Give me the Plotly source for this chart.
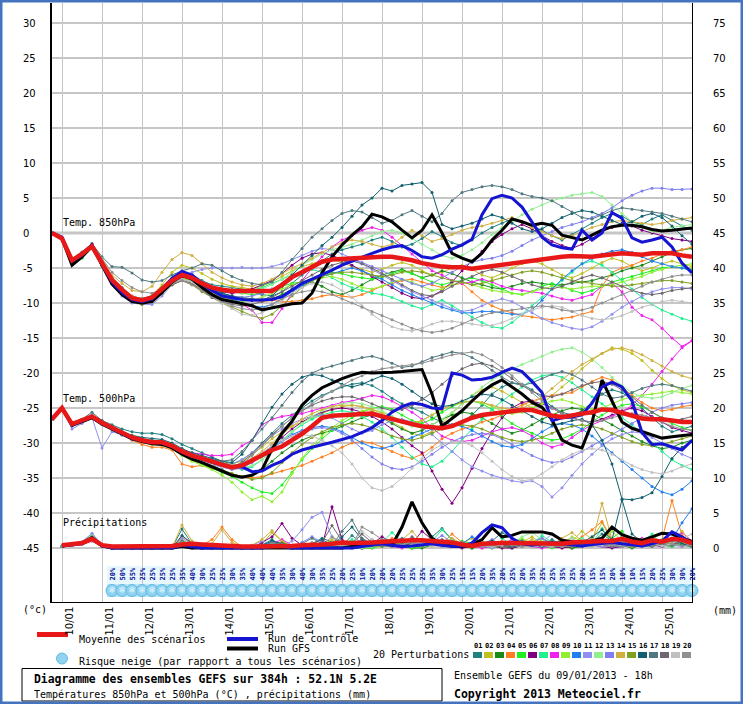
import plotly.graph_objects as go

# ------------------------------------------------------------------ data
hours = list(range(0, 385, 6))
day_hours = [6, 30, 54, 78, 102, 126, 150, 174, 198, 222, 246, 270, 294, 318, 342, 366]
day_labels = ["10/01", "11/01", "12/01", "13/01", "14/01", "15/01", "16/01", "17/01",
              "18/01", "19/01", "20/01", "21/01", "22/01", "23/01", "24/01", "25/01"]
left_ticks = [-45, -40, -35, -30, -25, -20, -15, -10, -5, 0, 5, 10, 15, 20, 25, 30]
right_ticks = [0, 5, 10, 15, 20, 25, 30, 35, 40, 45, 50, 55, 60, 65, 70, 75]
snow_pct = [20, 50, 55, 25, 25, 25, 25, 35, 40, 30, 25, 25, 30, 35, 40, 40, 40, 35, 30, 40,
            30, 35, 25, 20, 25, 10, 20, 20, 20, 25, 25, 25, 35, 30, 25, 15, 15, 20, 35,
            20, 25, 20, 35, 25, 25, 35, 25, 20, 15, 15, 20, 10, 10, 15, 20, 25, 30, 30, 20]

mean_850 = [0.0, -0.8, -3.9, -3.0, -1.9, -4.3, -6.7, -8.1, -9.3, -9.6,
            -9.2, -8.0, -6.8, -6.0, -6.4, -7.2, -7.8, -8.1, -8.3, -8.3,
            -8.3, -8.3, -8.3, -7.4, -6.3, -5.6, -4.8, -4.1, -3.8, -3.7,
            -3.6, -3.5, -3.4, -3.4, -3.4, -3.6, -3.9, -4.3, -4.6, -4.8,
            -4.9, -4.9, -5.1, -4.9, -4.7, -4.5, -4.3, -4.1, -3.9, -3.7,
            -3.5, -3.4, -3.3, -3.3, -3.4, -3.2, -3.1, -2.9, -3.0, -3.1,
            -2.9, -2.9, -2.9, -3.2, -3.4]
ctrl_850 = [0.0, -0.6, -4.0, -3.2, -1.7, -4.5, -7.0, -8.5, -9.5, -9.8,
            -9.4, -8.0, -6.5, -5.5, -6.0, -7.2, -8.2, -9.0, -9.3, -9.5,
            -9.6, -9.6, -9.5, -9.1, -8.1, -7.2, -6.6, -6.0, -5.3, -4.6,
            -4.0, -3.4, -2.9, -2.4, -2.0, -1.8, -2.5, -3.4, -3.6, -3.1,
            -2.3, -1.7, -0.9, 2.6, 4.9, 5.4, 5.0, 3.7, 1.6, -0.6,
            -1.7, -2.1, -2.3, 0.4, -1.0, 0.0, 2.9, 2.1, -0.7, -1.3,
            -1.0, -0.6, -2.0, -4.3, -5.7]
gfs_850 = [0.0, -0.8, -4.6, -3.4, -1.9, -4.5, -7.3, -8.8, -9.8, -10.0,
           -9.8, -8.5, -7.0, -6.1, -6.6, -7.8, -8.8, -9.5, -9.8, -10.0,
           -10.4, -11.0, -10.7, -10.3, -10.1, -10.0, -8.6, -5.7, -3.4, -1.7,
           -0.3, 0.9, 2.7, 2.3, 1.6, 0.4, -0.7, 0.4, 2.6, 0.0,
           -2.9, -3.6, -4.1, -2.9, -1.0, 0.4, 2.0, 1.6, 1.1, 1.4,
           1.1, -0.3, -0.7, -1.0, -0.3, 0.4, 0.9, 1.1, 1.1, 0.9,
           0.5, 0.3, 0.4, 0.5, 0.7]

mean_500 = [-26.6, -25.0, -27.3, -26.8, -26.2, -27.1, -27.8, -28.6, -29.2, -29.6,
            -29.9, -29.9, -30.4, -31.2, -31.8, -32.2, -32.7, -33.1, -33.5, -33.2,
            -32.5, -31.8, -31.0, -30.5, -29.6, -28.7, -27.6, -26.4, -26.1, -26.0,
            -25.9, -25.8, -25.8, -26.2, -26.6, -27.0, -27.3, -27.6, -27.8, -27.9,
            -27.6, -27.0, -26.4, -26.0, -25.8, -25.6, -25.4, -25.3, -25.3, -25.7,
            -26.1, -26.3, -26.0, -25.8, -25.6, -25.2, -25.3, -25.7, -26.1, -26.5,
            -26.6, -26.6, -26.8, -27.0, -27.0]
ctrl_500 = [-26.6, -25.0, -27.4, -26.8, -26.3, -27.2, -27.9, -28.7, -29.3, -29.6,
            -29.9, -30.0, -30.5, -31.3, -31.9, -32.3, -32.8, -33.2, -33.4, -33.4,
            -34.1, -34.0, -33.2, -32.6, -31.6, -31.0, -30.6, -30.3, -29.9, -29.5,
            -29.1, -28.5, -27.8, -26.8, -25.6, -24.8, -24.3, -24.5, -25.0, -25.1,
            -20.0, -20.3, -21.0, -20.9, -20.6, -19.9, -19.3, -19.8, -21.2, -22.8,
            -26.8, -26.4, -26.3, -26.0, -24.3, -22.0, -21.3, -22.0, -24.0, -28.5,
            -30.2, -30.1, -30.5, -31.0, -29.6]
gfs_500 = [-26.6, -25.0, -27.5, -26.9, -26.4, -27.3, -28.0, -28.8, -29.4, -29.8,
           -30.1, -30.2, -30.7, -31.6, -32.3, -32.8, -33.4, -34.0, -34.6, -34.9,
           -34.6, -33.8, -30.9, -28.6, -26.9, -24.6, -23.2, -22.1, -21.4, -20.8,
           -20.3, -19.9, -20.0, -20.0, -19.9, -19.8, -19.6, -19.5, -23.0, -27.6,
           -26.5, -25.4, -24.0, -22.7, -21.7, -21.0, -22.0, -23.0, -24.2, -24.9,
           -26.7, -29.6, -30.3, -30.7, -27.1, -21.0, -24.0, -27.0, -27.9, -28.4,
           -28.9, -29.3, -29.1, -28.9, -28.8]

# precipitation starts at the second time step (64 values)
mean_pr = [.4, .6, .7, 1.3, .4, .2, .2, .2, .2, .2, .2, .3, .5, .6, .5, .4,
           .3, .3, .2, .2, .2, .3, .3, .3, .4, .4, .5, .6, .8, .7, .7, .8,
           .9, 1.0, 1.1, 1.1, 1.1, 1.0, 1.0, .8, .5, .3, .6, .7, .7, .7, .7, .7,
           .6, .6, .6, .8, .9, 1.0, 1.0, 1.0, 1.3, .9, .7, 1.1, .9, 1.3, 1.2, .7]
ctrl_pr = [.3, .5, .6, 1.3, .3, 0, 0, 0, 0, 0, 0, 0, .4, .2, 0, 0,
           0, 0, 0, 0, 0, .2, .2, 0, 0, 0, 0, 0, 0, 0, .2, .4,
           .6, .4, .2, .3, .4, .6, .4, .2, .3, .7, 2.2, 3.3, 2.9, 1.4, .6, .4,
           .6, .8, .6, .4, .3, .5, .6, .8, .6, .4, .3, .6, 1.0, 2.3, 1.6, .6]
gfs_pr = [.3, .5, .7, 1.5, .3, 0, 0, 0, 0, 0, 0, 0, .2, 0, 0, 0,
          0, 0, 0, 0, 0, 0, 0, 0, 0, 0, 0, 0, 0, .2, .4, .6,
          .8, .4, 3.0, 6.6, 3.6, 1.4, .6, .3, .2, .5, 1.2, 2.9, 1.6, 1.8, 2.3, 2.3,
          2.3, 2.0, 1.1, .9, .7, 1.0, 1.4, 3.0, 1.9, 1.4, 1.1, 1.6, 2.1, 2.0, 1.4, .9]

# ---- 20 perturbations, 850 hPa
p01_850 = [0, -0.8, -3.8, -2.8, -1.6, -4.0, -6.4, -7.8, -9.0, -9.4, -9.0, -7.8, -6.5,
           -5.6, -5.9, -6.8, -7.4, -7.6, -7.8, -8.0, -8.4, -8.8, -9.0, -8.4, -7.2,
           -6.0, -5.0, -4.0, -3.0, -2.4, -2.0, -1.6, -1.0, -0.6, -1.2, -2.0, -1.6, -0.8, 0.2, -0.5, -1.4,
           -1.8, -1.0, 0.0, 0.8, 1.4, 2.0, 1.6, 1.0, 0.4, -0.4, -1.0, -0.2, 0.6, 1.4, 2.2, 2.8, 2.4, 1.6, 1.2, 2.0, 2.6, 1.8, 1.0, 0.4]
p02_850 = [0, -0.8, -4.0, -3.0, -1.8, -4.4, -6.9, -8.4, -9.5, -9.7, -9.0, -7.4, -5.6,
           -4.6, -5.0, -5.8, -6.6, -7.2, -7.6, -7.8, -8.0, -7.6, -7.0, -6.2, -5.4,
           -4.8, -4.4, -4.0, -3.8, -4.2, -4.8, -5.2, -5.6, -5.2, -4.6, -4.2, -4.6, -5.4, -6.0, -5.6, -5.0,
           -4.6, -5.2, -6.0, -6.4, -5.8, -5.0, -4.4, -4.0, -4.4, -5.2, -6.0, -6.4, -5.8, -5.0, -4.2, -3.6, -4.0, -4.8, -5.4, -5.0, -4.4, -4.0, -4.4, -4.8]
p03_850 = [0, -0.9, -4.2, -3.2, -2.0, -4.6, -7.0, -8.4, -9.6, -9.8, -9.3, -8.2, -7.0,
           -6.4, -6.8, -7.6, -8.2, -8.6, -9.0, -9.2, -9.4, -9.6, -9.4, -8.8, -8.0,
           -7.4, -7.0, -7.6, -8.4, -8.8, -8.2, -7.4, -6.6, -6.0, -5.6, -5.2, -5.8, -6.4, -6.0, -5.4, -5.8,
           -6.4, -7.0, -7.4, -7.8, -8.0, -7.6, -7.2, -7.0, -7.2, -7.4, -7.4, -7.2, -7.0, -6.8, -6.4, -6.0, -5.4, -5.0, -4.6, -4.0, -3.4, -2.8, -2.4, -2.2]
p04_850 = [0, -0.7, -3.8, -2.9, -1.9, -4.2, -6.6, -8.0, -9.0, -9.4, -9.2, -8.4, -7.4,
           -6.8, -7.2, -8.0, -8.6, -9.0, -9.2, -9.4, -9.6, -9.8, -9.6, -9.8, -9.8,
           -9.6, -9.4, -9.0, -8.8, -9.0, -9.2, -8.8, -8.2, -7.6, -7.2, -6.8, -6.6, -7.0, -7.4, -7.8, -7.4,
           -7.2, -8.4, -9.6, -10.4, -11.0, -11.4, -11.8, -12.0, -12.2, -12.4, -12.2, -12.0, -11.6, -11.2, -7.6, -5.6, -5.0, -4.6, -4.0, -3.6, -3.0, -2.6, -2.4, -2.0]
p05_850 = [0, -0.8, -4.5, -3.6, -2.2, -4.6, -7.2, -8.6, -9.8, -10.0, -9.6, -8.2, -6.8,
           -6.0, -6.6, -7.4, -7.8, -8.0, -8.4, -8.6, -8.8, -8.6, -8.0, -7.6, -7.2,
           -7.0, -6.6, -6.0, -5.6, -5.8, -6.2, -6.4, -6.6, -6.4, -5.8, -5.4, -5.8, -6.4, -7.0, -7.4, -7.0,
           -6.8, -6.4, -6.8, -7.4, -8.0, -8.6, -8.8, -8.4, -7.6, -7.2, -7.6, -8.2, -8.6, -8.2, -7.6, -7.0, -6.6, -6.2, -5.8, -5.4, -5.0, -4.8, -5.0, -5.2]
p06_850 = [0, -0.8, -4.0, -3.1, -1.9, -4.3, -6.8, -8.2, -9.4, -9.8, -9.4, -8.2, -7.0,
           -6.2, -6.6, -7.4, -8.0, -8.4, -8.6, -8.4, -8.0, -7.4, -6.8, -5.8, -4.6,
           -3.6, -3.0, -2.8, -3.2, -3.8, -4.6, -5.4, -6.2, -7.0, -7.8, -8.6, -9.2, -9.4, -9.0, -8.2, -7.0,
           -5.4, -4.0, -2.6, -1.2, -0.2, 0.6, 1.2, 0.6, -0.4, -1.2, -1.8, -2.2, -1.6, -0.8, 0.2, 0.8, 1.4, 1.0, 0.4, 0.0, -0.4, -0.8, -1.0, -1.2]
p07_850 = [0, -0.8, -4.4, -3.4, -1.8, -4.1, -6.5, -7.9, -9.1, -9.4, -9.0, -7.8, -6.4,
           -5.8, -6.2, -7.0, -7.6, -8.0, -8.2, -8.4, -8.2, -7.8, -7.2, -6.6, -6.0,
           -5.6, -5.2, -5.6, -6.4, -7.2, -7.8, -8.2, -8.6, -8.8, -9.2, -9.8, -10.4, -10.8, -10.2, -9.6, -10.4,
           -11.2, -12.0, -12.8, -13.4, -13.6, -12.8, -11.6, -10.4, -9.2, -8.0, -6.8, -5.6, -4.4, -4.0, -4.6, -5.6, -6.8, -8.0, -9.2, -10.2, -11.0, -11.6, -12.2, -12.6]
p08_850 = [0, -0.8, -3.9, -3.0, -1.9, -4.4, -6.8, -8.2, -9.4, -9.7, -9.3, -8.1, -6.9,
           -6.2, -6.6, -7.6, -8.4, -9.0, -9.6, -10.2, -11.0, -12.8, -12.8, -10.8, -8.6,
           -6.8, -5.0, -3.4, -2.0, -1.0, -0.4, 0.4, 0.8, 0.4, -0.6, -1.8, -3.0, -4.2, -5.4, -6.0, -6.8,
           -7.2, -7.0, -6.6, -7.0, -7.6, -8.0, -8.2, -8.4, -8.6, -9.0, -9.4, -9.6, -9.2, -8.8, -7.6, -7.2, -8.4, -10.6, -11.8, -12.4, -13.6, -15.0, -16.2, -15.4]
p09_850 = [0, -0.8, -4.2, -3.3, -2.0, -4.5, -6.9, -8.3, -9.5, -9.8, -9.4, -8.2, -7.0,
           -6.4, -6.8, -7.8, -8.6, -9.2, -9.6, -9.8, -9.6, -9.2, -8.6, -8.0, -7.4,
           -7.0, -6.8, -6.4, -6.2, -6.6, -7.2, -7.8, -8.0, -7.6, -7.0, -6.6, -7.0, -7.6, -8.2, -8.0, -7.4,
           -7.0, -7.4, -7.8, -8.2, -8.4, -8.6, -8.8, -8.4, -8.0, -7.6, -7.8, -8.0, -7.8, -7.6, -7.6, -7.4, -7.0, -6.6, -6.2, -5.6, -5.2, -4.8, -4.6, -4.4]
p10_850 = [0, -0.8, -4.0, -3.0, -1.7, -4.2, -6.6, -8.0, -9.2, -9.5, -9.1, -7.9, -6.6,
           -5.8, -6.2, -7.0, -7.8, -8.6, -9.4, -10.0, -10.4, -10.6, -10.2, -9.4, -8.4,
           -7.6, -6.8, -6.2, -5.8, -5.4, -5.0, -5.4, -6.0, -6.6, -7.4, -8.2, -8.8, -9.4, -10.0, -10.6, -11.0,
           -11.4, -11.4, -11.2, -11.2, -11.4, -11.6, -11.6, -11.0, -9.6, -8.0, -6.6, -5.4, -4.4, -3.6, -3.0, -2.6, -2.4, -2.8, -3.4, -4.0, -4.4, -4.8, -5.0, -5.4]
p11_850 = [0, -0.8, -4.0, -3.0, -1.8, -4.5, -7.2, -9.0, -10.0, -10.2, -10.2, -9.0, -7.4,
           -6.4, -5.6, -5.2, -5.0, -5.0, -5.0, -4.9, -5.0, -5.0, -4.8, -4.4, -3.8,
           -3.2, -2.6, -2.2, -2.4, -3.0, -3.6, -4.4, -5.2, -6.0, -6.8, -7.6, -8.4, -9.0, -9.6, -10.2, -10.8,
           -11.2, -11.0, -10.4, -9.8, -9.4, -9.8, -10.6, -11.4, -12.2, -12.8, -13.2, -13.6, -13.8, -13.4, -12.6, -11.6, -10.6, -9.8, -9.0, -8.4, -8.0, -7.8, -7.8, -8.0]
p12_850 = [0, -0.8, -3.9, -2.9, -1.7, -4.2, -6.6, -8.1, -9.3, -9.6, -9.3, -8.1, -6.7,
           -6.0, -6.4, -7.2, -7.8, -8.2, -8.4, -8.6, -8.4, -8.0, -7.4, -6.6, -5.6,
           -4.6, -3.8, -3.0, -2.4, -2.0, -1.6, -1.0, -0.4, 0.2, 0.4, 0.0, -0.8, -1.6, -2.4, -3.2, -3.6,
           -3.2, -2.4, -1.4, -0.2, 0.8, 1.6, 2.6, 3.4, 4.0, 4.6, 5.0, 5.4, 5.6, 5.8, 5.2, 4.0, 2.8, 1.6, 0.8, 0.2, 0.4, 0.8, 1.0, 1.2]
p13_850 = [0, -0.8, -4.1, -3.1, -1.9, -4.4, -6.9, -8.4, -9.6, -9.9, -9.6, -8.4, -7.2,
           -6.6, -7.0, -7.8, -8.4, -8.8, -9.0, -9.2, -9.0, -8.6, -8.0, -7.2, -6.4,
           -5.6, -4.8, -4.2, -3.8, -3.6, -3.8, -4.2, -4.8, -5.4, -6.0, -6.6, -7.2, -7.6, -7.2, -6.4, -5.6,
           -4.8, -4.2, -3.8, -3.6, -3.2, -2.6, -1.8, -1.0, -0.4, 0.2, 0.8, 1.2, 1.6, 2.2, 2.8, 3.6, 4.6, 5.4, 6.0, 6.4, 6.4, 6.2, 6.2, 6.3]
p14_850 = [0, -0.7, -3.7, -2.8, -1.6, -3.8, -6.0, -7.2, -8.2, -8.4, -7.6, -5.6, -3.8,
           -2.8, -3.2, -4.4, -5.6, -6.4, -7.0, -7.4, -7.6, -7.2, -6.6, -5.8, -5.0,
           -4.4, -3.6, -2.8, -2.0, -1.4, -1.0, -1.2, -1.6, -2.0, -1.6, -0.6, 0.4, -0.4, -1.2, -0.8, -0.2,
           0.4, 0.8, 1.0, 1.4, 1.8, 2.2, 1.6, 0.8, 0.2, -0.4, -0.8, -0.4, 0.2, 0.8, 1.2, 1.6, 1.8, 1.6, 1.4, 1.2, 1.4, 1.8, 2.0, 2.2]
p15_850 = [0, -0.9, -4.3, -3.4, -2.1, -4.7, -7.2, -8.6, -9.8, -10.2, -9.8, -8.6, -7.4,
           -6.8, -7.4, -8.4, -9.2, -10.0, -10.6, -11.2, -11.8, -12.2, -11.6, -10.4, -9.0,
           -7.8, -6.8, -6.2, -5.8, -5.6, -5.6, -5.8, -6.0, -6.2, -6.0, -5.6, -5.4, -5.6, -6.0, -6.4, -6.8,
           -7.0, -7.4, -7.2, -6.8, -6.4, -6.0, -5.6, -5.4, -5.6, -6.0, -6.4, -6.8, -7.0, -7.2, -7.4, -7.6, -7.6, -7.4, -7.2, -7.0, -6.8, -6.8, -7.0, -7.2]
p16_850 = [0, -0.8, -4.2, -3.1, -1.8, -4.4, -6.8, -8.2, -9.4, -9.7, -9.3, -8.1, -6.9,
           -6.2, -6.6, -7.4, -8.0, -8.6, -9.0, -9.4, -9.6, -9.6, -9.0, -7.6, -6.0,
           -4.6, -3.2, -1.8, -0.6, 0.8, 2.4, 4.0, 5.0, 6.4, 6.0, 6.8, 7.0, 7.2, 5.8, 1.2, 0.6,
           1.0, 1.4, 2.0, 2.6, 2.2, 1.4, 0.6, 0.2, 0.6, 1.4, 2.2, 2.8, 3.2, 3.0, 2.4, 1.8, 1.2, 1.6, 2.4, 2.8, 2.2, 1.0, -0.4, -1.6]
p17_850 = [0, -0.8, -3.8, -2.7, -1.5, -3.4, -4.8, -4.9, -5.7, -6.7, -7.0, -6.8, -6.0,
           -5.4, -5.0, -4.4, -4.6, -5.4, -6.2, -6.8, -7.2, -7.4, -7.0, -5.6, -3.8,
           -2.2, -0.6, 0.6, 1.8, 2.8, 3.2, 3.0, 2.2, 1.4, 1.8, 2.6, 3.2, 2.4, 1.6, 2.8, 4.6,
           5.8, 6.2, 6.6, 6.8, 6.6, 6.2, 5.6, 5.2, 5.0, 4.6, 3.8, 3.0, 2.2, 2.0, 2.6, 3.2, 3.6, 3.4, 3.2, 3.0, 2.8, 2.4, 2.0, 1.6]
p18_850 = [0, -0.8, -4.1, -3.2, -2.0, -4.6, -7.0, -8.5, -9.7, -10.0, -9.7, -8.6, -7.4,
           -6.8, -7.2, -8.2, -9.2, -9.8, -10.2, -10.4, -10.2, -9.8, -9.2, -8.4, -7.6,
           -6.8, -6.0, -5.2, -4.6, -4.2, -4.0, -4.4, -5.0, -5.8, -6.6, -7.4, -8.2, -8.8, -9.0, -8.4, -7.6,
           -6.8, -6.2, -5.6, -5.2, -5.6, -6.2, -6.8, -7.4, -7.8, -8.0, -7.6, -7.0, -6.4, -6.0, -6.4, -7.0, -7.6, -8.2, -8.6, -8.8, -8.6, -8.2, -8.0, -7.8]
p19_850 = [0, -0.8, -4.0, -3.1, -1.9, -4.5, -6.9, -8.4, -9.6, -9.9, -9.5, -8.3, -7.1,
           -6.6, -7.0, -8.0, -9.0, -10.0, -10.8, -11.6, -11.8, -11.4, -10.6, -9.6, -8.6,
           -7.8, -7.2, -7.0, -7.4, -8.2, -9.2, -10.4, -11.6, -12.6, -13.4, -13.8, -14.0, -13.6, -13.0, -12.6, -12.6,
           -12.8, -13.0, -13.2, -13.2, -12.8, -12.2, -11.6, -11.0, -10.6, -10.4, -10.6, -11.2, -11.8, -12.2, -12.4, -12.2, -11.8, -11.2, -10.6, -10.2, -9.8, -9.6, -9.8, -10.0]
p20_850 = [0, -0.8, -3.9, -2.9, -1.7, -3.6, -5.6, -6.8, -7.8, -8.4, -8.6, -8.0, -7.2,
           -6.8, -7.4, -8.2, -9.0, -9.8, -10.4, -10.8, -11.0, -10.8, -10.2, -9.4, -8.8,
           -8.4, -8.2, -8.4, -8.8, -9.4, -10.0, -10.6, -11.2, -11.8, -12.4, -13.0, -13.6, -14.0, -14.2, -14.0, -13.6,
           -13.0, -12.4, -11.8, -11.4, -11.2, -11.0, -10.8, -10.6, -10.4, -10.6, -11.0, -11.2, -11.0, -10.6, -10.0, -9.4, -8.8, -8.2, -7.6, -7.0, -6.6, -6.2, -6.0, -6.0]

# ---- 20 perturbations, 500 hPa
p01_500 = [-26.4, -25.0, -27.2, -26.6, -26.0, -26.8, -27.4, -28.0, -28.4, -28.6, -28.6, -28.8, -29.4,
           -30.2, -30.8, -31.4, -32.0, -32.6, -33.0, -32.4, -31.4, -30.0, -28.6, -27.2, -26.0,
           -25.0, -24.0, -23.2, -22.6, -22.0, -21.6, -21.4, -21.8, -22.6, -23.6, -24.4, -25.0, -25.6, -26.4, -27.0, -27.4,
           -27.0, -26.0, -24.6, -23.0, -22.0, -21.4, -21.6, -22.4, -23.6, -24.8, -25.6, -26.0, -25.4, -24.2, -23.0, -22.4, -22.8, -23.8, -25.0, -26.4, -27.6, -28.4, -28.0, -27.6]
p02_500 = [-26.6, -25.0, -27.4, -26.8, -26.2, -27.0, -27.6, -28.4, -29.0, -29.4, -29.6, -29.8, -30.2,
           -31.0, -31.6, -32.0, -32.4, -32.8, -33.0, -32.6, -31.6, -30.6, -29.4, -28.4, -27.6,
           -27.0, -26.4, -25.8, -25.2, -24.8, -24.6, -24.8, -25.4, -26.2, -27.0, -27.8, -28.6, -29.0, -28.4, -27.2, -25.8,
           -24.4, -23.2, -22.4, -22.0, -22.6, -23.4, -24.2, -25.0, -24.4, -23.2, -22.0, -20.8, -19.4, -18.2, -17.2, -16.4, -16.6, -17.2, -18.2, -19.6, -20.8, -21.8, -22.4, -22.8]
p03_500 = [-26.6, -25.0, -27.5, -26.9, -26.3, -27.2, -27.9, -28.7, -29.3, -29.7, -30.0, -30.0, -30.5,
           -31.4, -32.0, -32.6, -33.2, -33.8, -34.4, -34.8, -34.6, -33.8, -32.6, -31.4, -30.4,
           -29.6, -29.0, -28.6, -28.2, -27.6, -27.0, -26.4, -26.0, -26.4, -27.2, -28.0, -28.6, -28.2, -27.4, -26.6, -26.0,
           -25.6, -25.8, -26.4, -27.2, -28.0, -28.6, -28.2, -27.4, -26.6, -26.0, -25.4, -25.0, -25.2, -25.8, -26.6, -27.4, -28.2, -29.0, -29.8, -30.4, -30.8, -30.6, -30.0, -29.6]
p04_500 = [-26.6, -25.0, -27.4, -26.8, -26.2, -27.2, -28.0, -28.8, -29.6, -30.2, -30.6, -30.6, -31.0,
           -33.0, -33.4, -33.2, -33.6, -34.0, -34.4, -34.8, -35.0, -34.8, -34.4, -34.0, -33.6,
           -33.2, -32.6, -32.0, -31.4, -30.6, -30.0, -29.8, -30.0, -30.6, -31.2, -31.8, -32.2, -31.6, -30.6, -29.4, -28.6,
           -28.0, -27.6, -27.0, -26.6, -26.0, -25.2, -24.6, -24.0, -23.6, -23.2, -23.0, -22.8, -22.0, -21.2, -20.6, -21.0, -22.0, -23.2, -24.2, -25.0, -25.4, -25.2, -24.8, -24.6]
p05_500 = [-26.6, -25.0, -27.5, -26.9, -26.3, -27.3, -28.0, -28.8, -29.4, -29.8, -30.1, -30.2, -30.7,
           -31.6, -32.4, -33.0, -33.6, -34.2, -34.8, -35.6, -36.4, -37.0, -37.2, -36.0, -34.2,
           -32.4, -30.8, -29.4, -28.2, -27.2, -26.4, -25.6, -25.0, -24.8, -25.2, -26.0, -26.8, -27.2, -26.6, -25.6, -24.8,
           -24.2, -24.0, -24.4, -25.2, -26.2, -27.2, -28.0, -28.6, -29.2, -29.6, -29.4, -28.8, -28.0, -27.0, -26.0, -25.2, -24.6, -24.4, -24.8, -25.6, -26.4, -27.2, -27.8, -28.2]
p06_500 = [-26.6, -25.0, -27.4, -26.8, -26.2, -27.1, -27.8, -28.6, -29.2, -29.6, -29.9, -30.0, -30.5,
           -31.3, -31.9, -32.4, -32.9, -33.3, -33.6, -33.4, -32.6, -31.6, -30.4, -29.2, -28.0,
           -27.0, -26.2, -25.6, -25.2, -25.0, -25.2, -25.6, -26.2, -27.0, -28.0, -29.2, -30.4, -31.4, -34.0, -36.6, -38.6,
           -36.4, -33.6, -30.8, -28.4, -26.4, -25.0, -24.2, -24.0, -24.4, -25.0, -25.8, -26.4, -26.8, -27.0, -26.6, -26.0, -25.4, -25.0, -25.4, -26.2, -27.0, -27.8, -28.2, -28.6]
p07_500 = [-26.6, -25.0, -27.3, -26.7, -26.1, -27.0, -27.7, -28.5, -29.1, -29.5, -29.8, -29.9, -30.4,
           -31.2, -31.8, -32.2, -32.6, -33.0, -33.4, -33.8, -33.4, -32.4, -31.0, -29.6, -28.4,
           -27.4, -26.6, -26.0, -25.6, -25.4, -25.6, -26.2, -27.0, -28.0, -29.2, -30.6, -32.0, -33.0, -33.4, -32.6, -31.2,
           -29.6, -28.0, -26.6, -25.2, -24.0, -23.0, -22.0, -21.0, -20.4, -20.2, -20.6, -21.4, -22.4, -23.4, -24.4, -25.4, -26.4, -27.4, -28.6, -30.0, -31.2, -32.4, -33.2, -33.8]
p08_500 = [-26.6, -25.0, -27.4, -26.8, -26.2, -27.1, -27.8, -28.6, -29.2, -29.6, -29.9, -30.0, -30.4,
           -31.0, -31.4, -31.6, -31.8, -31.8, -31.6, -30.4, -29.6, -27.4, -26.6, -26.2, -26.0,
           -25.8, -25.4, -25.0, -24.6, -24.2, -24.0, -23.6, -23.2, -23.4, -24.0, -24.8, -25.6, -26.6, -27.8, -29.0, -29.6,
           -29.8, -29.6, -29.0, -28.4, -28.0, -27.8, -28.2, -29.0, -30.0, -30.6, -30.2, -29.2, -28.2, -27.4, -26.8, -26.2, -25.6, -24.6, -23.2, -21.6, -19.8, -18.0, -16.4, -15.4]
p09_500 = [-26.6, -25.0, -27.5, -26.9, -26.4, -27.3, -28.0, -28.8, -29.4, -29.8, -30.2, -30.3, -30.8,
           -31.8, -32.6, -33.2, -33.8, -34.6, -35.6, -37.0, -38.1, -37.6, -38.4, -37.0, -34.4,
           -32.2, -30.4, -29.0, -27.8, -26.8, -26.0, -25.4, -25.2, -25.6, -26.2, -26.8, -27.2, -26.8, -26.0, -25.2, -24.6,
           -24.2, -24.0, -24.2, -24.8, -25.4, -25.8, -25.6, -25.0, -24.4, -24.0, -23.8, -24.2, -24.8, -25.2, -25.0, -24.4, -23.8, -23.4, -23.2, -23.0, -22.8, -22.6, -22.8, -23.0]
p10_500 = [-26.6, -25.0, -27.3, -26.7, -26.1, -27.0, -27.7, -28.5, -29.1, -29.5, -29.8, -29.8, -30.3,
           -31.0, -31.6, -32.0, -32.4, -32.8, -33.2, -33.0, -32.4, -31.6, -30.6, -29.6, -28.8,
           -28.2, -27.8, -27.6, -27.8, -28.4, -29.2, -30.0, -30.6, -30.8, -30.4, -29.8, -29.2, -28.6, -28.0, -27.6, -27.4,
           -27.6, -28.2, -29.0, -29.8, -30.4, -30.6, -30.2, -29.4, -28.4, -27.6, -27.2, -27.4, -28.0, -29.0, -30.2, -31.4, -32.6, -33.8, -35.0, -36.2, -37.0, -37.4, -36.6, -35.4]
p11_500 = [-26.6, -25.0, -28.0, -27.2, -26.4, -30.7, -28.4, -28.8, -29.2, -29.6, -29.9, -30.0, -30.6,
           -31.4, -32.0, -32.6, -33.0, -33.2, -33.0, -32.4, -31.4, -30.2, -29.0, -28.0, -27.2,
           -26.6, -26.2, -26.0, -26.4, -27.2, -28.0, -28.6, -28.2, -27.4, -26.8, -26.6, -27.0, -27.8, -28.8, -30.0, -31.2,
           -32.4, -33.4, -34.0, -34.6, -35.0, -35.4, -35.6, -35.4, -36.2, -37.7, -36.4, -34.6, -33.0, -31.6, -30.4, -29.4, -28.8, -28.4, -28.6, -29.2, -30.0, -30.8, -31.6, -32.2]
p12_500 = [-26.6, -25.0, -27.3, -26.7, -26.1, -27.0, -27.7, -28.5, -29.1, -29.5, -29.8, -29.8, -30.3,
           -31.0, -31.6, -32.2, -32.6, -33.0, -33.4, -33.6, -33.2, -32.4, -31.2, -29.8, -28.4,
           -27.2, -26.2, -25.4, -24.8, -24.4, -24.2, -24.4, -24.8, -25.4, -26.2, -27.0, -27.6, -27.8, -27.4, -26.6, -25.6,
           -24.4, -23.2, -22.0, -21.0, -20.2, -19.4, -18.8, -18.2, -17.6, -17.0, -16.6, -16.4, -17.0, -18.0, -19.2, -20.6, -21.8, -22.8, -23.4, -23.6, -23.4, -22.8, -22.2, -21.8]
p13_500 = [-26.6, -25.0, -27.6, -27.0, -26.4, -27.4, -28.1, -28.9, -29.5, -29.8, -30.1, -30.1, -30.6,
           -31.5, -32.1, -32.6, -33.1, -33.5, -33.8, -33.6, -32.8, -31.8, -30.8, -29.8, -29.0,
           -28.4, -28.0, -27.8, -28.0, -28.6, -29.6, -30.8, -32.0, -33.0, -33.6, -33.8, -33.4, -32.6, -31.6, -30.6, -29.8,
           -29.2, -28.8, -28.6, -28.8, -29.4, -30.2, -31.0, -31.8, -32.4, -32.8, -32.6, -32.0, -31.2, -30.4, -29.6, -28.8, -28.0, -27.2, -26.4, -25.6, -25.0, -24.6, -24.4, -24.2]
p14_500 = [-26.6, -25.0, -27.4, -26.8, -26.2, -27.1, -27.8, -28.6, -29.2, -29.6, -29.9, -30.0, -30.4,
           -31.2, -31.8, -32.2, -32.6, -33.0, -33.2, -33.0, -32.2, -31.2, -30.0, -28.8, -27.6,
           -26.6, -25.8, -25.2, -24.8, -24.6, -24.6, -24.8, -25.2, -25.8, -26.4, -27.0, -27.2, -26.8, -26.0, -25.2, -24.6,
           -24.2, -24.0, -24.2, -24.6, -25.0, -25.2, -25.0, -24.4, -23.4, -22.2, -21.0, -19.8, -18.8, -18.0, -17.2, -16.6, -16.4, -16.8, -17.4, -18.2, -19.0, -19.8, -20.4, -20.8]
p15_500 = [-26.6, -25.0, -27.4, -26.8, -26.3, -27.2, -27.9, -28.7, -29.3, -29.7, -30.0, -30.1, -30.6,
           -31.4, -32.2, -32.8, -33.4, -34.0, -34.4, -34.8, -35.2, -35.0, -34.2, -32.8, -31.4,
           -30.2, -29.2, -28.4, -27.8, -27.4, -27.2, -27.4, -27.8, -28.4, -29.0, -29.4, -29.6, -29.2, -28.6, -28.0, -27.6,
           -27.4, -27.6, -28.0, -28.6, -29.2, -29.6, -29.8, -29.6, -29.2, -28.6, -28.0, -27.6, -27.4, -27.6, -28.0, -28.6, -29.2, -29.8, -30.2, -30.4, -30.2, -29.8, -29.4, -29.0]
p16_500 = [-26.6, -25.0, -27.3, -26.7, -26.1, -27.0, -27.6, -28.4, -28.9, -29.2, -29.4, -29.5, -30.0,
           -30.8, -31.4, -31.8, -32.2, -32.6, -32.8, -31.6, -29.6, -27.2, -24.9, -23.0, -21.6,
           -20.6, -20.2, -20.4, -21.0, -21.6, -22.0, -21.6, -21.0, -20.4, -20.8, -21.6, -22.6, -23.6, -24.4, -24.8, -24.6,
           -24.0, -23.4, -23.0, -23.2, -23.8, -24.6, -25.4, -26.2, -27.0, -27.4, -27.2, -26.8, -26.6, -27.4, -29.6, -33.0, -38.0, -38.1, -37.8, -37.1, -34.8, -32.2, -30.6, -29.8]
p17_500 = [-26.6, -25.0, -27.3, -26.6, -25.6, -26.8, -27.6, -28.4, -29.0, -29.4, -29.6, -29.7, -30.2,
           -31.0, -31.6, -32.0, -32.4, -32.6, -32.4, -31.2, -29.6, -28.0, -26.4, -24.6, -22.8,
           -21.2, -20.0, -19.4, -19.0, -18.6, -18.2, -17.8, -17.6, -18.0, -18.6, -19.2, -19.0, -18.4, -17.8, -17.4, -17.0,
           -17.2, -17.8, -18.6, -19.6, -20.6, -21.4, -21.8, -21.4, -20.8, -20.2, -19.8, -20.2, -21.0, -22.0, -23.0, -23.6, -23.4, -22.8, -22.2, -21.8, -21.6, -21.8, -22.2, -22.6]
p18_500 = [-26.6, -25.0, -27.4, -26.8, -26.2, -27.1, -27.8, -28.6, -29.2, -29.6, -29.9, -30.0, -30.5,
           -31.3, -32.0, -32.4, -32.8, -33.2, -33.4, -32.8, -31.6, -30.2, -28.8, -27.6, -26.4,
           -25.4, -24.6, -24.0, -23.6, -23.4, -23.4, -23.8, -24.4, -25.0, -25.4, -25.2, -24.6, -23.8, -22.8, -21.6, -20.4,
           -19.4, -18.8, -18.6, -19.0, -19.8, -20.8, -21.8, -22.6, -23.2, -23.4, -23.0, -22.4, -21.8, -21.4, -21.2, -21.6, -22.4, -23.4, -24.6, -25.6, -26.4, -26.8, -26.6, -26.2]
p19_500 = [-26.6, -25.0, -27.5, -26.9, -26.3, -27.2, -27.9, -28.7, -29.3, -29.7, -30.0, -30.1, -30.6,
           -31.4, -32.0, -32.6, -33.0, -33.4, -33.6, -33.2, -32.4, -31.4, -30.4, -29.6, -29.0,
           -28.8, -29.0, -29.6, -30.4, -31.4, -33.0, -35.0, -36.4, -36.8, -36.2, -35.0, -33.6, -32.2, -31.0, -30.2, -29.8,
           -29.8, -30.4, -31.4, -32.6, -33.8, -34.8, -35.4, -35.2, -34.4, -33.4, -32.4, -31.6, -31.0, -30.8, -31.0, -31.6, -32.4, -33.2, -33.8, -34.2, -34.4, -34.0, -33.4, -33.0]
p20_500 = [-26.6, -25.0, -27.3, -26.7, -26.1, -27.0, -27.7, -28.5, -29.1, -29.5, -29.8, -29.9, -30.4,
           -31.2, -31.8, -32.4, -32.8, -33.2, -33.4, -33.0, -31.8, -30.4, -29.0, -27.6, -26.4,
           -25.4, -24.4, -23.4, -22.6, -21.8, -21.0, -20.4, -19.8, -19.4, -19.2, -19.0, -18.8, -18.6, -18.2, -17.8, -17.4,
           -17.2, -17.0, -17.4, -18.2, -19.2, -20.4, -21.6, -22.8, -24.0, -25.0, -25.8, -26.4, -26.8, -27.0, -26.8, -26.4, -26.0, -25.8, -26.0, -26.4, -27.0, -27.6, -28.0, -28.2]

# ---- 20 perturbations, precipitation (mm, from the 2nd time step)
p01_pr = [.3, .5, .6, 1.4, .3, 0, 0, 0, 0, 0, 0, 0, 2.7, .6, 0, 0, 0, 0, 0, 0, .4, 1.2, .4, 0,
          0, .6, 1.4, .8, .3, 1.8, .6, .2, .4, 1.0, .6, .2, .4, 1.6, 2.8, 1.2, .4, 0, .3, 1.0, 2.2, 1.4, .6, .2,
          .6, 1.2, .4, 0, .3, .8, 2.0, 1.0, .4, .2, .6, 1.4, .8, .4, 1.2, .6]
p02_pr = [.3, .4, .5, 1.0, .2, 0, 0, 0, 0, 0, 0, 0, 1.2, .4, 0, 0, 0, 0, 0, 0, .6, 2.2, 1.0, 0,
          0, 0, .4, 1.2, .6, .2, 0, .4, 1.0, .6, .2, 0, .3, .8, .4, .2, .6, 1.4, .8, .2, 0, .2, .8, 1.6,
          .6, .2, .4, 1.0, 2.4, 1.2, 3.6, 1.0, .4, .2, .8, 1.6, .8, .3, 1.0, .4]
p03_pr = [.2, .4, .6, 1.2, .2, 0, 0, 0, 0, 0, 0, 0, .8, .2, 0, 0, 0, 0, 0, 0, 0, .3, .6, .2,
          0, 0, .2, .6, .4, 0, 0, .6, 1.2, .8, .3, 0, 0, .4, 1.0, .6, .2, 0, .2, .6, .3, 0, .4, .8,
          1.4, .6, .2, 0, .2, .6, 1.2, .8, .3, 0, .4, .8, .4, .2, .6, .3]
p04_pr = [.3, .5, .7, 1.5, .4, 0, 0, 0, 0, 0, 0, 0, 1.6, .8, .4, 1.2, 3.0, 1.2, .2, 0, 0, .4, .8, .2,
          0, 0, 0, .2, .8, .4, 0, 0, .4, 1.4, .6, .3, .8, 1.2, .6, 2.0, .8, .2, 0, .3, 1.0, .6, .2, .4,
          1.2, .4, 0, .6, 1.6, 2.6, 3.8, 1.2, .4, .2, .6, .4, 1.2, 6.8, 1.8, .6]
p05_pr = [.3, .5, .6, 1.8, .4, 0, 0, 0, 0, 0, 0, 0, .6, .2, 0, 0, 0, 0, 0, 0, 0, .4, .2, 0,
          0, 0, 0, .3, .6, .2, 0, 0, .3, .8, .4, 0, .2, .6, .3, .4, 1.0, .6, .2, 0, .2, .6, 1.2, .4,
          .2, 0, .3, .8, .4, .2, .6, 1.4, 2.4, .8, .3, .2, .6, 1.0, .4, .2]
p06_pr = [.3, .4, .6, 1.2, .3, 0, 0, 0, 0, 0, 0, 0, .4, 0, 0, 0, 0, 0, 0, 0, .8, 1.6, 3.5, 1.4,
          .4, 0, .2, 5.9, 1.2, .3, 0, .6, 1.6, .8, .3, .6, 2.4, 1.2, .4, .2, 0, .2, .6, .3, 0, 0, .3, .8,
          .4, .2, 0, .2, .6, .4, .2, 0, .2, .6, 1.0, .4, .2, .6, .8, .3]
p07_pr = [.3, .5, .8, 2.0, .5, 0, 0, 0, 0, 0, 0, 0, 1.0, .4, 0, 0, 0, 0, 0, 0, 0, .2, .6, .3,
          0, 0, .3, .8, .4, 1.2, .6, .2, .8, 2.2, 1.0, .4, .2, 1.0, 2.6, 1.2, .4, .2, 1.2, 3.0, 1.4, .4, .2, .6,
          1.8, .8, .3, .6, 1.4, .6, 2.8, .8, .4, .3, .8, 2.0, .6, .2, .6, .3]
p08_pr = [.3, .4, .6, 1.0, .2, 0, 0, 0, 0, 0, 0, 0, .3, 0, 0, 0, 0, 0, 0, 0, 0, .6, 1.2, .4,
          0, .2, .6, .3, 0, 0, .4, 1.0, .6, .2, 0, .4, 1.0, .6, .2, .4, .8, .3, 0, .2, .6, 1.2, .8, .2,
          0, .2, .8, .4, .2, .6, 1.2, .6, .2, .6, 1.4, .8, .4, 1.2, 2.2, 1.0]
p09_pr = [.3, .5, .7, 1.8, .4, 0, 0, 0, 0, 0, 0, 0, .6, .2, 0, 0, 0, 0, 0, 0, .2, .6, .3, 0,
          0, 0, 0, .4, .2, 0, .3, .8, .4, .2, .6, 1.2, .6, .3, .8, .4, .2, .6, 1.0, .4, .2, .6, 1.4, .6,
          .3, .2, .6, 1.6, 1.0, .4, 1.2, 2.4, 1.0, .4, .2, .6, 1.2, .6, .4, .8]
p10_pr = [.3, .4, .6, 1.2, .3, 0, 0, 0, 0, 0, 0, 0, .8, .3, 0, 0, 0, 0, 0, 0, .2, .4, .2, 0,
          0, 0, .2, .4, .6, .3, 0, .2, .6, 1.0, .4, .2, .6, .8, .4, .2, .6, 1.6, .8, .3, .2, .6, 1.0, .4,
          .2, .6, 1.2, .6, .2, .4, .8, .4, .2, .4, 1.0, .6, .3, 1.2, 3.6, 5.6]
p11_pr = [.3, .6, .9, 2.1, .5, 0, 0, 0, 0, 0, 0, 0, 1.4, .6, .2, 0, 0, 0, 0, .4, 1.0, .6, .3, 1.0,
          2.6, 4.4, 5.1, 1.6, .4, .2, .6, 1.2, .6, .3, .2, .4, .8, .6, 1.0, .4, .2, .6, .3, 0, .4, 1.0, .6, .2,
          .8, 2.0, 1.0, .4, .2, .6, .4, .2, .6, 1.2, .4, .2, .8, .4, .2, .6]
p12_pr = [.3, .5, .6, 1.4, .3, 0, 0, 0, 0, 0, 0, 0, .4, .2, 0, 0, 0, 0, 0, 0, 0, .3, .2, 0,
          0, 0, 0, .2, .4, .2, 0, .2, .4, .6, .3, .2, .6, 1.4, .8, .3, .2, .4, .8, .4, .2, .6, 1.6, 2.2,
          1.2, .4, .2, .6, 1.2, .8, .4, .6, 1.8, .8, .4, .2, .6, 1.0, .6, .4]
p13_pr = [.3, .5, .7, 1.6, .4, 0, 0, 0, 0, 0, 0, 0, .6, .2, 0, 0, 0, 0, 0, 0, .3, .8, .4, .2,
          .8, 1.6, .8, .4, .2, .6, 1.2, .6, .3, .2, .6, 1.0, .4, .8, 1.8, .8, .4, .2, .6, 1.2, .4, .2, .3, .8,
          1.4, .6, .2, .4, .8, .4, .2, .6, 1.0, .4, .2, .6, .4, 1.2, .6, .3]
p14_pr = [.3, .5, .6, 1.4, .3, 0, 0, 0, 0, 0, 0, 0, 3.3, 1.0, .2, .6, 2.6, .8, .2, .4, 1.2, 2.5, 1.0, .3,
          0, 0, .3, .6, .2, .4, .8, .4, .2, .6, 1.2, 2.4, .8, .3, .6, 1.4, .6, .2, .4, .8, .4, .2, .6, 1.2,
          .8, .4, 1.4, 2.2, 1.0, .6, 6.4, 1.2, .6, .4, 1.0, .6, .4, .8, 2.4, .8]
p15_pr = [.2, .4, .6, 1.2, .3, 0, 0, 0, 0, 0, 0, 0, .8, .3, 0, 0, 0, 0, 0, 0, 0, .6, .8, .3,
          0, .2, .6, .3, 0, .4, .8, .4, .2, .4, .8, .4, .2, .6, .3, .2, .4, .8, .4, .2, .3, .6, .4, .2,
          .4, .8, .4, .2, .6, 1.0, .6, .4, .8, .4, .6, 1.2, .6, .4, .8, .4]
p16_pr = [.3, .5, .6, 1.2, .3, 0, 0, 0, 0, 0, 0, 0, 1.8, .6, 0, 0, 0, 0, 0, 0, .4, 1.0, .6, .4,
          .2, .6, 1.2, .4, 1.6, 3.0, 1.2, .4, .6, .4, .2, .8, 1.2, .6, .4, .8, .4, .2, .6, 1.0, .4, .2, .4, .6,
          .2, .6, 1.0, .4, .8, 1.6, 2.6, 1.2, 6.9, 2.0, .8, .4, .6, 1.4, .6, .2]
p17_pr = [.3, .5, .6, 1.3, .3, 0, 0, 0, 0, 0, 0, 0, 1.0, .4, 0, 0, 0, 0, 0, 0, .3, .8, .4, .2,
          .6, 1.4, .6, .3, 2.4, 4.0, 1.4, .6, .3, .6, 1.4, .8, .4, .6, 1.2, .6, .2, .4, .6, .3, .2, .4, .8, .4,
          .6, .3, .2, .4, .6, .3, .8, .4, .2, .4, .8, .4, .6, 1.0, .4, .2]
p18_pr = [.3, .5, .6, 1.1, .3, 0, 0, 0, 0, 0, 0, 0, .6, .2, 0, 0, 0, 0, 0, 0, 0, .4, .6, .3,
          .4, .2, .8, 3.2, 1.0, .6, 2.0, .8, .4, .2, .6, 1.6, .8, .4, .2, .6, .4, .2, .6, .4, .2, .6, 1.0, .4,
          .3, .2, .6, .4, .2, .8, .4, .2, .4, .8, .4, .2, .6, .4, 1.0, .4]
p19_pr = [.3, .4, .5, 1.0, .2, 0, 0, 0, 0, 0, 0, 0, .4, 0, 0, 0, 0, 0, 0, 0, 0, .2, .4, .2,
          0, .2, .4, .2, .6, .4, 2.4, 1.2, .6, .3, .2, .4, .6, .3, .2, .4, .2, .6, .4, .2, .4, .8, .4, .2,
          .4, .2, .6, 1.4, .6, .2, .4, .6, .3, .6, 1.2, .6, .3, .6, 1.4, 2.0]
p20_pr = [.3, .5, .6, 1.2, .3, 0, 0, 0, 0, 0, 0, 0, .8, .3, 0, 0, 0, 0, 0, 0, .3, .6, .4, 0,
          .3, .8, .4, 1.6, .8, .4, 3.0, 2.2, 1.2, .6, .4, .8, .4, .6, .3, .4, .6, .4, .2, .4, .8, .4, .2, .4,
          .6, .4, .2, .4, .6, .4, .8, .4, .2, .4, .6, .4, .8, .6, .3, .4]

pert_colors = ["#1f8080", "#c0c020", "#1a8a1a", "#ff8020", "#20f020", "#800080", "#20f090",
               "#f020f0", "#90f030", "#2080f0", "#9090f0", "#90f090", "#8080f0", "#d0b040",
               "#80a020", "#106070", "#507880", "#706870", "#c0c0c0", "#909090"]

# ------------------------------------------------------------------ checks
members_850 = [p01_850, p02_850, p03_850, p04_850, p05_850, p06_850, p07_850, p08_850, p09_850, p10_850,
               p11_850, p12_850, p13_850, p14_850, p15_850, p16_850, p17_850, p18_850, p19_850, p20_850]
members_500 = [p01_500, p02_500, p03_500, p04_500, p05_500, p06_500, p07_500, p08_500, p09_500, p10_500,
               p11_500, p12_500, p13_500, p14_500, p15_500, p16_500, p17_500, p18_500, p19_500, p20_500]
members_pr = [p01_pr, p02_pr, p03_pr, p04_pr, p05_pr, p06_pr, p07_pr, p08_pr, p09_pr, p10_pr,
              p11_pr, p12_pr, p13_pr, p14_pr, p15_pr, p16_pr, p17_pr, p18_pr, p19_pr, p20_pr]
for nm, arr, n in ([("m850", mean_850, 65), ("c850", ctrl_850, 65), ("g850", gfs_850, 65),
                    ("m500", mean_500, 65), ("c500", ctrl_500, 65), ("g500", gfs_500, 65),
                    ("mpr", mean_pr, 64), ("cpr", ctrl_pr, 64), ("gpr", gfs_pr, 64), ("snow", snow_pct, 59)]
                   + [("p850_%d" % (i + 1), a, 65) for i, a in enumerate(members_850)]
                   + [("p500_%d" % (i + 1), a, 65) for i, a in enumerate(members_500)]
                   + [("ppr_%d" % (i + 1), a, 64) for i, a in enumerate(members_pr)]):
    if len(arr) != n:
        raise SystemExit("bad length %s: %d" % (nm, len(arr)))

# ------------------------------------------------------------------ geometry
W, H = 743, 704
L, R, T, B = 52, 692, 3, 602
Y0 = -45 - (B - 548) / 7.0
Y1 = 30 + (23 - T) / 7.0


def fx(p):
    return (p - L) / (R - L)


def fy(p):
    return (B - p) / (B - T)


def yv(p):  # pixel row -> left axis value
    return Y0 + (B - p) / 7.0


fig = go.Figure()
pr_hours = hours[1:]

for k in range(20):
    c = pert_colors[k]
    fig.add_trace(go.Scatter(x=hours, y=members_850[k], mode="lines+markers",
                             line=dict(color=c, width=1), marker=dict(size=3, color=c),
                             hoverinfo="skip", showlegend=False))
    fig.add_trace(go.Scatter(x=hours, y=members_500[k], mode="lines+markers",
                             line=dict(color=c, width=1), marker=dict(size=3, color=c),
                             hoverinfo="skip", showlegend=False))
    fig.add_trace(go.Scatter(x=pr_hours, y=members_pr[k], mode="lines+markers", yaxis="y2",
                             line=dict(color=c, width=1), marker=dict(size=3, color=c),
                             hoverinfo="skip", showlegend=False))

for series, col, wid in ((gfs_850, "#000000", 3), (ctrl_850, "#1414d2", 3), (mean_850, "#e81818", 4.5),
                         (gfs_500, "#000000", 3), (ctrl_500, "#1414d2", 3), (mean_500, "#e81818", 4.5)):
    fig.add_trace(go.Scatter(x=hours, y=series, mode="lines", line=dict(color=col, width=wid),
                             hoverinfo="skip", showlegend=False))
for series, col, wid in ((gfs_pr, "#000000", 3), (ctrl_pr, "#1414d2", 3), (mean_pr, "#e81818", 4.5)):
    fig.add_trace(go.Scatter(x=pr_hours, y=series, mode="lines", yaxis="y2",
                             line=dict(color=col, width=wid), hoverinfo="skip", showlegend=False))

# snow-risk row
snow_hours = hours[6:]
fig.add_trace(go.Scatter(x=snow_hours, y=[yv(590.5)] * len(snow_hours), mode="markers",
                         marker=dict(symbol="circle", size=12, color="#8fd3f0",
                                     line=dict(color="#62b8e4", width=1)),
                         hoverinfo="skip", showlegend=False, cliponaxis=False))
fig.add_trace(go.Scatter(x=snow_hours, y=[yv(590.5)] * len(snow_hours), mode="text",
                         text=["\u2744"] * len(snow_hours),
                         textfont=dict(family="DejaVu Sans", size=9, color="#e6f8ff"),
                         hoverinfo="skip", showlegend=False, cliponaxis=False))

shapes = []
ann = []

# light cyan bands behind the snow row
shapes.append(dict(type="rect", xref="paper", yref="paper", x0=fx(107), x1=fx(694), y0=fy(584),
                   y1=fy(566), fillcolor="#e6f8fd", line=dict(width=0), layer="between"))
shapes.append(dict(type="rect", xref="paper", yref="paper", x0=fx(107), x1=fx(694), y0=fy(597),
                   y1=fy(584), fillcolor="#bfe8f7", line=dict(width=0), layer="between"))
# 0 degC line
shapes.append(dict(type="line", xref="paper", yref="y", x0=0, x1=1, y0=0, y1=0,
                   line=dict(color="#8a8a8a", width=2.5), layer="between"))

for h, p in zip(snow_hours, snow_pct):
    ann.append(dict(x=h, xref="x", y=fy(574.5), yref="paper", text="%d%%" % p, textangle=-90,
                    showarrow=False, xanchor="center", yanchor="middle",
                    font=dict(family="DejaVu Sans Mono", size=7, color="#0c0c9a", weight="bold")))

# axis tick labels (left aligned like the original)
for v in left_ticks:
    ann.append(dict(x=fx(21), xref="paper", y=v, yref="y", text=str(v), showarrow=False,
                    xanchor="left", yanchor="middle", font=dict(family="DejaVu Sans", size=10, color="black")))
for v in right_ticks:
    ann.append(dict(x=fx(711), xref="paper", y=v, yref="y2", text=str(v), showarrow=False,
                    xanchor="left", yanchor="middle", font=dict(family="DejaVu Sans", size=10, color="black")))
for h, lab in zip(day_hours, day_labels):
    ann.append(dict(x=h, xref="x", xshift=7, y=fy(605), yref="paper", text=lab, textangle=-90,
                    showarrow=False, xanchor="center", yanchor="top",
                    font=dict(family="DejaVu Sans", size=10, color="black")))

mono = "DejaVu Sans Mono"


def label(px, py, text, size=10, bold=False, anchor="left"):
    f = dict(family=mono, size=size, color="black")
    if bold:
        f["weight"] = "bold"
    ann.append(dict(x=fx(px), y=fy(py), xref="paper", yref="paper", text=text, showarrow=False,
                    xanchor=anchor, yanchor="middle", font=f))


label(61, 222, "Temp. 850hPa")
label(61, 398, "Temp. 500hPa")
label(61, 522, "Précipitations")
label(21, 609, "(°c)")
label(711, 610, "(mm)")

# legend
shapes.append(dict(type="line", xref="paper", yref="paper", x0=fx(37), x1=fx(68), y0=fy(634.5), y1=fy(634.5),
                   line=dict(color="#e81818", width=5)))
label(77, 639, "Moyenne des scénarios")
shapes.append(dict(type="line", xref="paper", yref="paper", x0=fx(227), x1=fx(258), y0=fy(639), y1=fy(639),
                   line=dict(color="#1414d2", width=4)))
label(266, 638.5, "Run de contrôle")
shapes.append(dict(type="line", xref="paper", yref="paper", x0=fx(227), x1=fx(258), y0=fy(648.5), y1=fy(648.5),
                   line=dict(color="#000000", width=4)))
label(266, 648.5, "Run GFS")
shapes.append(dict(type="circle", xref="paper", yref="paper", x0=fx(56.5), x1=fx(67.5), y0=fy(664),
                   y1=fy(653), fillcolor="#8fd3f0", line=dict(color="#62b8e4", width=1)))
ann.append(dict(x=fx(62), y=fy(658.5), xref="paper", yref="paper", text="\u2744", showarrow=False,
                font=dict(family="DejaVu Sans", size=9, color="#e6f8ff")))
label(77, 661, "Risque neige (par rapport a tous les scénarios)")
label(371, 654.5, "20 Perturbations")
for k in range(20):
    x0 = 473 + 11.0 * k
    shapes.append(dict(type="rect", xref="paper", yref="paper", x0=fx(x0), x1=fx(x0 + 9), y0=fy(658),
                       y1=fy(652), fillcolor=pert_colors[k], line=dict(width=0)))
    ann.append(dict(x=fx(x0 + 4.5), y=fy(646), xref="paper", yref="paper", text="%02d" % (k + 1),
                    showarrow=False, xanchor="center", yanchor="middle",
                    font=dict(family=mono, size=7, color="black", weight="bold")))

# title box
shapes.append(dict(type="rect", xref="paper", yref="paper", x0=fx(22), x1=fx(442), y0=fy(701), y1=fy(668.5),
                   fillcolor="white", line=dict(color="black", width=1)))
label(32, 679, "Diagramme des ensembles GEFS sur 384h : 52.1N 5.2E", size=11.4, bold=True)
label(32, 694, "Températures 850hPa et 500hPa (°C) , précipitations (mm)")
label(452, 675, "Ensemble GEFS du 09/01/2013 - 18h")
label(452, 693.5, "Copyright 2013 Meteociel.fr", size=11.5, bold=True)

# outer blue frame
shapes.append(dict(type="rect", xref="paper", yref="paper", x0=fx(1), x1=fx(742), y0=fy(703), y1=fy(1),
                   line=dict(color="#4474c0", width=3), fillcolor="rgba(0,0,0,0)"))

fig.update_layout(
    width=W, height=H, margin=dict(l=L, r=W - R, t=T, b=H - B, pad=0),
    paper_bgcolor="white", plot_bgcolor="white", showlegend=False,
    xaxis=dict(range=[0, 384], tickvals=day_hours, showticklabels=False, ticks="", showgrid=True,
               gridcolor="#c4c4c4", gridwidth=1, zeroline=False, showline=True, linecolor="black",
               linewidth=1, fixedrange=True),
    yaxis=dict(range=[Y0, Y1], tickvals=left_ticks, showticklabels=False, ticks="", showgrid=True,
               gridcolor="#c6c6c6", gridwidth=2, zeroline=False, showline=True, linecolor="black",
               linewidth=2, fixedrange=True),
    yaxis2=dict(range=[Y0 + 45, Y1 + 45], overlaying="y", side="right", tickvals=right_ticks,
                showticklabels=False, ticks="", showgrid=False, zeroline=False, showline=True,
                linecolor="black", linewidth=1, fixedrange=True),
    shapes=shapes, annotations=ann,
)

fig.write_html("out.html", config={"displayModeBar": False},
               post_script="document.body.style.margin='0';document.body.style.padding='0';"
                           "document.body.style.overflow='hidden';")
